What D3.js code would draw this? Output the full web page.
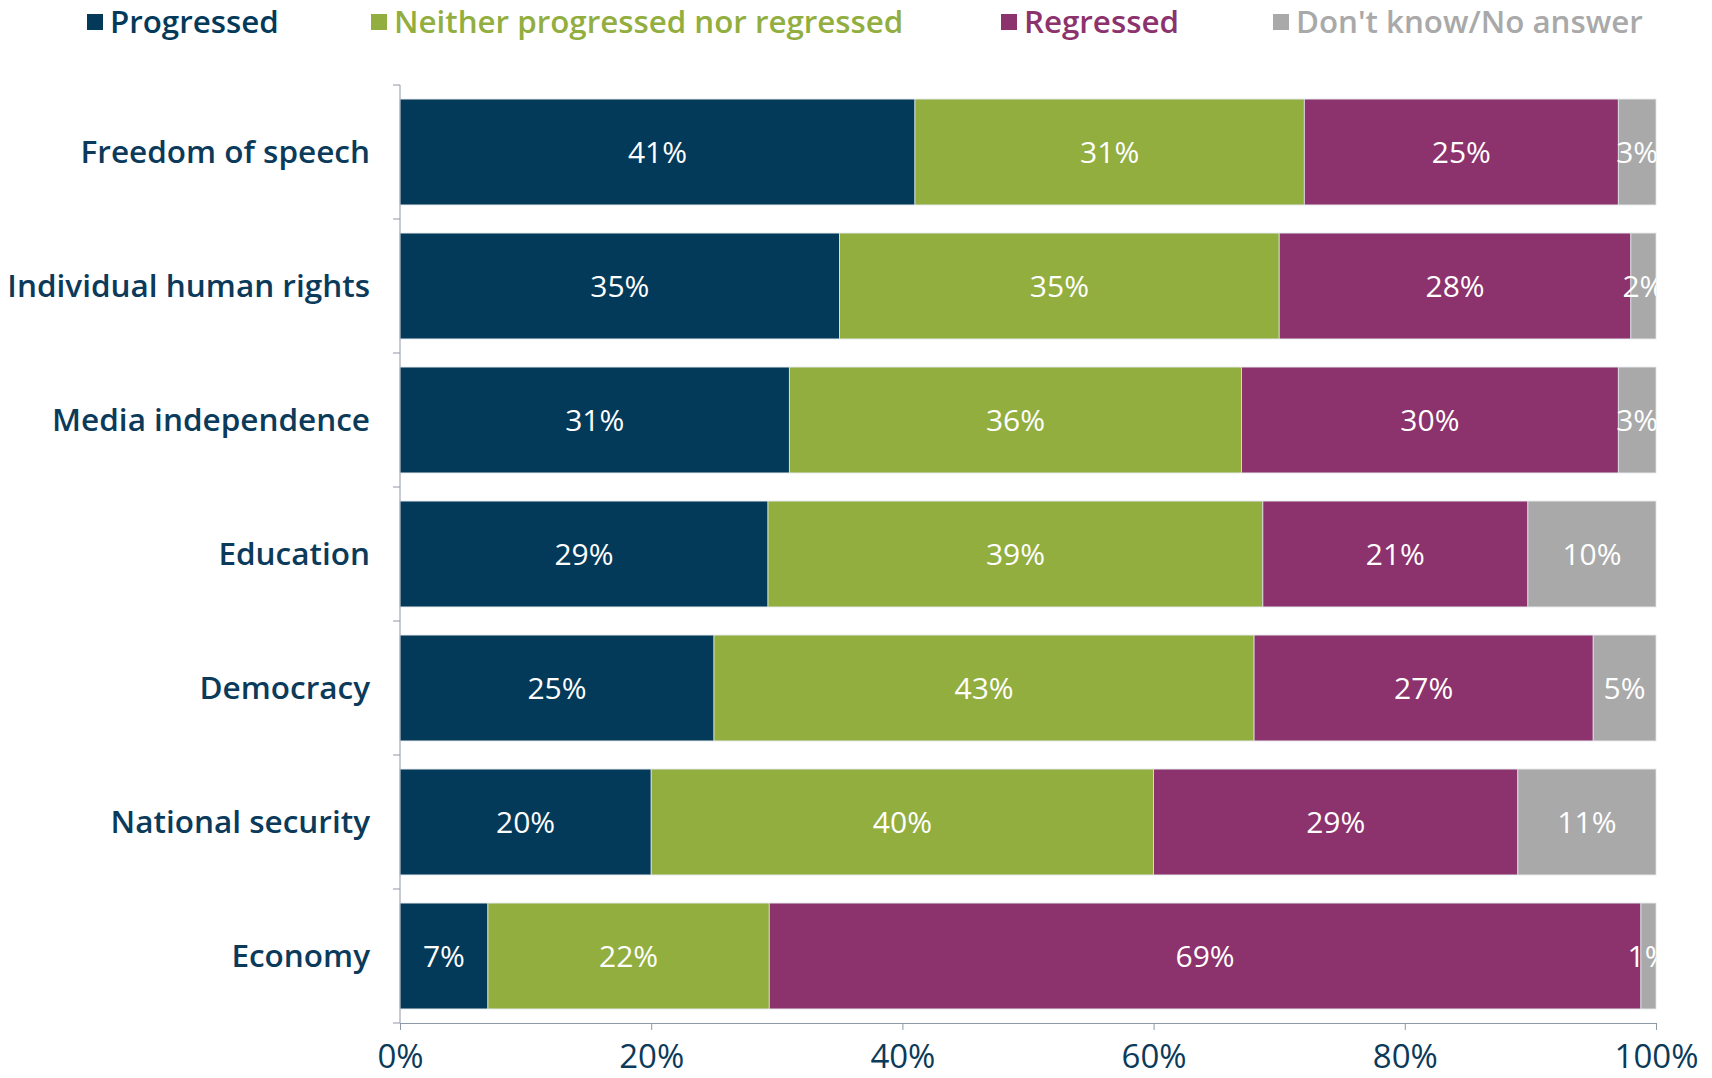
<!DOCTYPE html>
<html>
<head>
<meta charset="utf-8">
<script src="https://cdn.jsdelivr.net/npm/d3@7"></script>
<style>
  body { margin: 0; background: #fff; }
  svg text { font-family: "Open Sans", sans-serif; }
</style>
</head>
<body>
<div id="chart"></div>
<script>
// categories, top to bottom
let categories = ["Freedom of speech", "Individual human rights", "Media independence",
    "Education", "Democracy", "National security", "Economy"];

let seriesNames = ["Progressed", "Neither progressed nor regressed", "Regressed", "Don't know/No answer"];
let seriesColors = ["#033a5a", "#92ae3f", "#8c326c", "#a9a9a9"];

// values per series, same order as categories
let progressed = [41, 35, 31, 29.3, 25, 20, 7];
let neither    = [31, 35, 36, 39.4, 43, 40, 22.4];
let regressed  = [25, 28, 30, 21.1, 27, 29, 69.4];
let dontKnow   = [3, 2, 3, 10.2, 5, 11, 1.2];

let xTicks = [0, 20, 40, 60, 80, 100];

let margin = {top: 85, right: 56, bottom: 55, left: 400};
let width = 1712 - margin.left - margin.right,
    height = 1078 - margin.top - margin.bottom;

let navy = "#0b3a5a";
let axisColor = "#8e99a6";

let svg = d3.select("#chart").append("svg")
    .attr("width", 1712)
    .attr("height", 1078);

let g = svg.append("g")
    .attr("transform", "translate(" + margin.left + "," + margin.top + ")");

// build rows for stacking
let rows = categories.map(function (c, i) {
    return {cat: c, s0: progressed[i], s1: neither[i], s2: regressed[i], s3: dontKnow[i]};
});
let stack = d3.stack().keys(["s0", "s1", "s2", "s3"]);
let layers = stack(rows);

let x = d3.scaleLinear().domain([0, 100]).range([0, width]);
let y = d3.scaleBand().domain(categories).range([0, height]).paddingInner(0.21).paddingOuter(0.105);

// clip for labels that overflow the right edge
svg.append("defs").append("clipPath").attr("id", "plotClip")
    .append("rect").attr("x", 0).attr("y", 0).attr("width", width).attr("height", height);

let layerG = g.selectAll("g.layer")
    .data(layers)
    .enter().append("g")
    .attr("class", "layer")
    .attr("fill", function (d, i) { return seriesColors[i]; });

layerG.selectAll("rect")
    .data(function (d) { return d; })
    .enter().append("rect")
    .attr("x", function (d) { return x(d[0]); })
    .attr("y", function (d) { return y(d.data.cat); })
    .attr("width", function (d) { return x(d[1]) - x(d[0]); })
    .attr("height", y.bandwidth())
    .attr("stroke", "#dfe3e8")
    .attr("stroke-width", 0.8);

// value labels
let labelG = g.append("g").attr("clip-path", "url(#plotClip)");
layers.forEach(function (layer) {
    labelG.selectAll(null)
        .data(layer)
        .enter().append("text")
        .attr("x", function (d) { return x((d[0] + d[1]) / 2); })
        .attr("y", function (d) { return y(d.data.cat) + y.bandwidth() / 2; })
        .attr("dy", "0.36em")
        .attr("text-anchor", "middle")
        .attr("fill", "#fff")
        .style("font-size", "30px")
        .text(function (d) { return Math.round(d[1] - d[0]) + "%"; });
});

// x axis
let xAxis = g.append("g")
    .attr("transform", "translate(0," + height + ")")
    .call(d3.axisBottom(x).tickValues(xTicks).tickSize(7).tickFormat(function (d) { return d + "%"; }));
xAxis.select(".domain").attr("stroke", axisColor);
xAxis.selectAll(".tick line").attr("stroke", axisColor);
xAxis.selectAll(".tick text")
    .attr("fill", navy)
    .attr("y", 22)
    .attr("dy", "0.71em")
    .style("font-size", "33px")
    .style("font-weight", 500);

// y axis: ticks at band boundaries
let yAxis = g.append("g");
yAxis.append("line")
    .attr("x1", 0).attr("x2", 0)
    .attr("y1", 0).attr("y2", height)
    .attr("stroke", axisColor);
let bounds = categories.map(function (c) { return y(c) - y.step() * y.paddingInner() / 2; });
bounds.push(height);
yAxis.selectAll("line.tk")
    .data(bounds)
    .enter().append("line")
    .attr("class", "tk")
    .attr("x1", -7).attr("x2", 0)
    .attr("y1", function (d) { return d; })
    .attr("y2", function (d) { return d; })
    .attr("stroke", axisColor);
yAxis.selectAll("text")
    .data(categories)
    .enter().append("text")
    .attr("x", -30)
    .attr("y", function (d) { return y(d) + y.bandwidth() / 2; })
    .attr("dy", "0.36em")
    .attr("text-anchor", "end")
    .attr("fill", navy)
    .style("font-size", "31.5px")
    .style("font-weight", 600)
    .text(function (d) { return d; });

// legend
let legendX = [87, 371, 1001, 1273];
let legend = svg.append("g");
seriesNames.forEach(function (name, i) {
    let lg = legend.append("g").attr("transform", "translate(" + legendX[i] + ",22)");
    lg.append("rect")
        .attr("x", 0).attr("y", -8)
        .attr("width", 16).attr("height", 16)
        .attr("fill", seriesColors[i]);
    lg.append("text")
        .attr("x", 23)
        .attr("dy", "0.36em")
        .attr("fill", seriesColors[i])
        .style("font-size", "31.3px")
        .style("font-weight", 600)
        .text(name);
});
</script>
</body>
</html>
